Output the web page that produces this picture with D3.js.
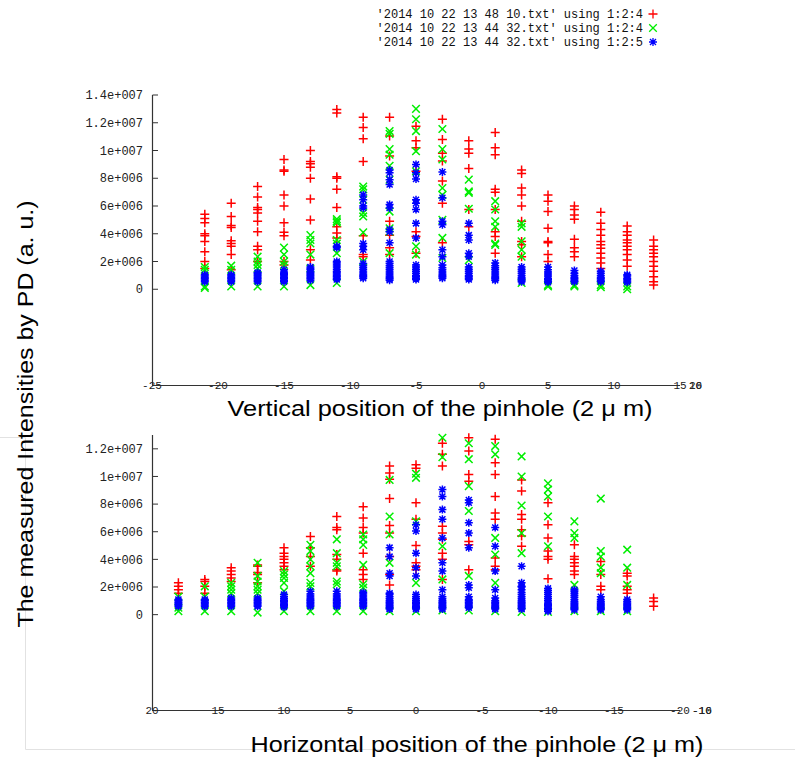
<!DOCTYPE html>
<html>
<head>
<meta charset="utf-8">
<script src="https://cdn.jsdelivr.net/npm/d3@7"></script>
<style>
  body { margin: 0; background: #fff; }
  svg { display: block; }
  .tick-y { font-family: "Liberation Mono", monospace; font-size: 12px; fill: #222; }
  .tick-x { font-family: "Liberation Mono", monospace; font-size: 11px; fill: #222; }
  .legend { font-family: "Liberation Mono", monospace; font-size: 12px; fill: #111; }
  .title { font-family: "Liberation Sans", Arial, sans-serif; font-size: 22px; fill: #000; }
</style>
</head>
<body>
<svg id="canvas" width="795" height="764"></svg>
<script>
// values in units of 1e6 (a. u.)
var legendLabels = [
  "'2014 10 22 13 48 10.txt' using 1:2:4",
  "'2014 10 22 13 44 32.txt' using 1:2:4",
  "'2014 10 22 13 44 32.txt' using 1:2:5"
];

var yTicksTop = [0, 2, 4, 6, 8, 10, 12, 14];
var yTickLabelsTop = ["0", "2e+006", "4e+006", "6e+006", "8e+006", "1e+007", "1.2e+007", "1.4e+007"];
var yTicksBot = [0, 2, 4, 6, 8, 10, 12];
var yTickLabelsBot = ["0", "2e+006", "4e+006", "6e+006", "8e+006", "1e+007", "1.2e+007"];

var xTicksTop = [-25, -20, -15, -10, -5, 0, 5, 10, 15];
var xTicksBot = [20, 15, 10, 5, 0, -5, -10, -15, -20];

// vertical scan (top panel)
var topX = [-21, -19, -17, -15, -13, -11, -9, -7, -5, -3, -1, 1, 3, 5, 7, 9, 11, 13];

var topRed = [
  [5.4, 5.1, 4.8, 4.0, 3.85, 3.45, 2.7, 2.0, 1.5],
  [6.2, 5.25, 4.6, 4.45, 3.5, 3.3, 3.1, 2.5, 1.4],
  [7.4, 6.65, 5.9, 5.75, 5.5, 4.9, 4.15, 3.1, 2.85, 2.0],
  [9.35, 8.6, 8.5, 6.8, 6.0, 4.8, 4.1, 3.85, 2.0, 1.75],
  [10.0, 9.2, 9.05, 8.8, 8.0, 6.5, 5.0, 2.85, 2.1],
  [12.95, 12.7, 8.1, 8.0, 7.2, 5.9, 4.5, 4.05, 3.7],
  [12.4, 11.65, 10.85, 9.2, 3.85, 2.5, 2.35],
  [12.4, 11.05, 9.6, 4.9, 3.9, 3.0, 2.5],
  [11.75, 10.7, 10.2, 8.5, 4.15, 3.8, 2.6],
  [12.25, 10.8, 9.8, 9.25, 7.8, 6.2, 3.35],
  [10.7, 10.1, 9.8, 8.7, 5.75, 4.5],
  [11.3, 10.2, 9.7, 7.2, 7.0, 5.75, 4.15, 3.8, 2.6],
  [8.6, 8.35, 7.3, 6.8, 6.0, 4.9, 3.45, 3.2, 2.35],
  [6.8, 6.35, 5.6, 4.4, 3.45, 3.35, 2.5, 2.0],
  [6.0, 5.75, 5.35, 5.05, 3.6, 3.0, 2.7, 2.35],
  [5.55, 4.75, 4.3, 3.9, 3.45, 3.2, 2.95, 2.6, 2.25, 1.9, 1.5],
  [4.55, 4.15, 3.9, 3.55, 3.35, 3.1, 2.85, 2.5, 2.1, 1.65],
  [3.55, 3.1, 2.85, 2.6, 2.35, 2.0, 1.65, 1.3, 0.9, 0.55, 0.3]
];

var topGreen = [
  [1.6, 1.4, 0.2, 0.1],
  [1.7, 1.4, 0.2],
  [2.35, 2.0, 1.75, 1.5, 0.2],
  [3.0, 2.5, 2.0, 1.75, 0.2],
  [3.9, 3.55, 3.3, 2.5, 1.5, 0.3],
  [5.05, 4.9, 4.8, 3.55, 3.3, 2.6, 0.45],
  [7.4, 7.2, 6.45, 5.5, 5.25, 4.1, 2.0],
  [11.4, 11.2, 10.1, 9.7, 8.9, 7.9, 5.6, 4.4, 4.15, 2.6],
  [13.0, 12.25, 11.4, 9.95, 8.5, 3.1, 2.5],
  [11.55, 10.1, 9.35, 7.3, 6.8, 5.0, 3.7, 2.25],
  [7.9, 7.05, 6.95, 5.8, 2.1],
  [6.35, 5.75, 4.9, 4.5, 3.3, 3.2],
  [4.75, 4.5, 3.45, 2.85, 2.35, 0.45],
  [0.3, 0.2],
  [0.3, 0.2],
  [0.3, 0.15],
  [0.2, 0.0],
  []
];

var topBlue = [
  [0.55, 0.65, 0.75, 0.85, 0.95, 1.05],
  [0.55, 0.65, 0.75, 0.85, 0.95, 1.05],
  [0.55, 0.65, 0.75, 0.85, 0.95, 1.05, 1.15, 1.2],
  [0.55, 0.65, 0.75, 0.85, 0.95, 1.05, 1.15, 1.25, 1.4],
  [0.65, 0.75, 0.85, 0.95, 1.05, 1.15, 1.25, 1.4, 1.5, 1.6],
  [3.1, 3.0, 0.7, 0.8, 0.9, 1.0, 1.1, 1.2, 1.3, 1.45, 1.6, 1.75, 1.9, 2.0],
  [6.8, 6.45, 6.0, 5.85, 3.3, 3.1, 2.85, 0.8, 0.9, 1.0, 1.1, 1.25, 1.4, 1.55, 1.7, 1.85],
  [8.6, 8.4, 7.9, 7.55, 6.1, 5.85, 4.3, 4.15, 3.35, 0.65, 0.75, 0.85, 0.95, 1.1, 1.25, 1.4, 1.55, 1.7, 1.85, 2.0],
  [9.0, 8.4, 7.95, 6.45, 6.2, 5.75, 4.75, 3.7, 0.7, 0.8, 0.9, 1.0, 1.15, 1.3, 1.45, 1.6, 1.75],
  [8.45, 6.6, 4.9, 4.65, 2.85, 2.35, 0.8, 0.9, 1.0, 1.1, 1.25, 1.4, 1.55, 1.75],
  [4.75, 3.9, 3.55, 2.6, 2.35, 0.7, 0.8, 0.9, 1.0, 1.15, 1.3, 1.45, 1.6],
  [0.65, 0.75, 0.85, 0.95, 1.1, 1.25, 1.4, 1.55, 1.7, 1.9],
  [0.55, 0.65, 0.75, 0.85, 1.0, 1.15, 1.3, 1.45, 1.6],
  [0.5, 0.6, 0.7, 0.8, 0.95, 1.1, 1.25, 1.4, 1.6],
  [0.55, 0.65, 0.75, 0.85, 1.0, 1.15, 1.35],
  [0.55, 0.65, 0.75, 0.85, 1.0, 1.15, 1.3],
  [0.5, 0.6, 0.7, 0.8, 0.95, 1.05],
  []
];

// horizontal scan (bottom panel)
var botX = [18, 16, 14, 12, 10, 8, 6, 4, 2, 0, -2, -4, -6, -8, -10, -12, -14, -16, -18];

var botRed = [
  [2.3, 2.05, 1.8, 1.55],
  [2.55, 2.4, 2.05, 1.55],
  [3.4, 3.15, 2.9, 2.65, 2.4],
  [3.6, 3.5, 3.05, 2.9, 2.3],
  [4.85, 4.45, 4.2, 4.0, 3.75, 3.5, 3.25],
  [5.65, 4.85, 4.2, 3.5],
  [7.1, 6.3, 6.15, 4.35, 4.0, 3.25, 3.15],
  [7.8, 7.0, 6.3, 5.9, 4.45, 3.25, 2.9, 2.55],
  [10.75, 10.25, 9.8, 8.4, 6.45, 5.9, 4.2, 2.9, 2.15],
  [10.85, 10.6, 8.1, 6.9, 5.0, 3.75, 3.5, 3.25],
  [12.4, 11.6, 10.75, 6.4, 5.9, 5.45, 4.45, 4.0, 2.55],
  [12.8, 11.85, 10.15, 9.65, 5.3, 5.05, 3.25],
  [12.7, 11.0, 10.15, 8.55, 7.35, 6.9, 4.1, 3.5, 3.25],
  [9.75, 8.95, 7.25, 6.9, 6.15, 5.7, 4.95],
  [8.1, 6.5, 5.55, 4.6, 4.2, 4.0, 2.6],
  [5.05, 4.2, 4.0, 3.75, 3.5, 3.15, 2.9],
  [3.85, 2.9, 2.05, 1.8],
  [3.0, 2.8, 2.05, 1.8, 1.55],
  [1.2, 0.95, 0.6]
];

var botGreen = [
  [1.3, 0.5, 0.25],
  [2.05, 1.3, 0.25],
  [2.3, 2.05, 1.8, 1.55, 0.25],
  [3.75, 2.8, 2.4, 2.05, 1.8, 1.55, 0.15],
  [3.15, 2.9, 2.65, 2.3, 1.7, 0.25],
  [5.05, 4.6, 4.0, 3.5, 3.0, 2.3, 2.05, 0.25],
  [5.45, 4.45, 3.75, 3.5, 2.4, 2.2, 0.25],
  [5.8, 5.45, 5.05, 3.6, 2.2, 1.95, 0.25],
  [9.75, 7.1, 5.8, 3.75, 0.25],
  [10.2, 9.9, 6.75, 2.3, 0.25],
  [12.8, 11.4, 4.95, 2.55, 0.3],
  [12.4, 11.25, 9.3, 7.5, 2.8, 0.3],
  [12.2, 11.6, 5.55, 4.35, 2.3, 0.25],
  [11.45, 10.0, 7.9, 5.9, 4.45, 0.2],
  [9.5, 9.05, 8.55, 7.1, 4.95, 0.2],
  [6.75, 5.9, 5.55, 2.15, 0.25],
  [8.4, 4.6, 4.2, 3.4, 3.0, 0.25],
  [4.7, 3.4, 2.15, 0.25],
  []
];

var botBlue = [
  [0.6, 0.7, 0.8, 0.9, 1.0, 1.1],
  [0.6, 0.7, 0.8, 0.9, 1.0, 1.1],
  [0.6, 0.7, 0.8, 0.9, 1.0, 1.1, 1.2],
  [0.6, 0.7, 0.8, 0.9, 1.0, 1.1, 1.2],
  [0.55, 0.65, 0.75, 0.85, 0.95, 1.05, 1.15, 1.3, 1.45],
  [0.6, 0.7, 0.8, 0.9, 1.0, 1.1, 1.2, 1.35, 1.5, 1.7],
  [0.6, 0.7, 0.8, 0.9, 1.0, 1.1, 1.2, 1.35, 1.5, 1.7],
  [0.6, 0.7, 0.8, 0.9, 1.0, 1.1, 1.2, 1.35, 1.5, 1.6],
  [4.85, 4.2, 3.0, 2.8, 0.4, 0.5, 0.6, 0.7, 0.8, 0.9, 1.0, 1.15, 1.3, 1.45, 1.55],
  [6.5, 6.05, 4.45, 3.4, 2.8, 0.4, 0.5, 0.6, 0.7, 0.8, 0.9, 1.0, 1.15, 1.3, 1.45],
  [9.05, 8.55, 7.6, 6.9, 5.55, 3.75, 3.15, 1.8, 0.4, 0.5, 0.6, 0.7, 0.8, 0.9, 1.0, 1.15, 1.3],
  [8.3, 8.1, 6.65, 5.9, 4.85, 2.15, 1.95, 0.5, 0.6, 0.7, 0.8, 0.9, 1.0, 1.1, 1.3],
  [6.3, 4.95, 3.15, 1.8, 0.4, 0.5, 0.6, 0.7, 0.8, 0.9, 1.0, 1.2],
  [3.5, 2.3, 2.05, 0.4, 0.5, 0.6, 0.7, 0.8, 0.9, 1.0, 1.15, 1.3, 1.45, 1.6, 1.8, 2.0],
  [0.25, 0.35, 0.45, 0.55, 0.65, 0.75, 0.85, 1.0, 1.15, 1.3, 1.45, 1.6, 1.75, 1.9],
  [0.35, 0.45, 0.55, 0.65, 0.75, 0.85, 0.95, 1.1, 1.25, 1.4, 1.55, 1.7, 1.8],
  [0.35, 0.45, 0.55, 0.65, 0.75, 0.85, 0.95, 1.1, 1.3],
  [0.35, 0.45, 0.55, 0.65, 0.75, 0.85, 0.95, 1.1],
  []
];

var colors = ["#ff0000", "#00ee00", "#0000ff"];
var markers = [
  "M-4.5,0H4.5M0,-4.5V4.5",
  "M-3.8,-3.8L3.8,3.8M-3.8,3.8L3.8,-3.8",
  "M-4,0H4M0,-4V4M-3,-3L3,3M-3,3L3,-3"
];

var svg = d3.select('svg#canvas');

// faint border left over from the pasted figure
svg.append('path')
  .attr('d', 'M0,437.5H25.5V749.5H795')
  .attr('fill', 'none')
  .attr('stroke', '#e2e2e2')
  .attr('stroke-width', 1);

function flatten(xs, cols) {
  var pts = [];
  cols.forEach(function(col, i) {
    col.forEach(function(v) { pts.push({x: xs[i], y: v}); });
  });
  return pts;
}

function drawPanel(opt) {
  var x = d3.scaleLinear().domain(opt.xDomain).range([152, 680]);
  var y = d3.scaleLinear().domain(opt.yDomain).range(opt.yRange);
  var g = svg.append('g');

  // y axis line + inward ticks
  g.append('line')
    .attr('x1', 152.5).attr('x2', 152.5)
    .attr('y1', opt.yRange[1]).attr('y2', opt.yRange[0])
    .attr('stroke', '#333').attr('stroke-width', 1.2);
  g.selectAll('.yt').data(opt.yTicks).enter().append('line')
    .attr('x1', 152.5).attr('x2', 158)
    .attr('y1', function(d) { return y(d); }).attr('y2', function(d) { return y(d); })
    .attr('stroke', '#333');
  g.selectAll('.yl').data(opt.yTicks).enter().append('text')
    .attr('class', 'tick-y')
    .attr('x', 143)
    .attr('y', function(d) { return y(d); })
    .attr('dy', '0.35em')
    .attr('text-anchor', 'end')
    .text(function(d, i) { return opt.yLabels[i]; });

  // x axis line, labels sit on top of it
  var y0 = opt.yRange[0];
  g.append('line')
    .attr('x1', 152).attr('x2', 680)
    .attr('y1', y0 + 0.5).attr('y2', y0 + 0.5)
    .attr('stroke', '#333').attr('stroke-width', 1.2);
  g.selectAll('.xl').data(opt.xTicks).enter().append('text')
    .attr('class', 'tick-x')
    .attr('x', function(d) { return x(d); })
    .attr('y', y0 + 0.5)
    .attr('dy', '0.35em')
    .attr('text-anchor', 'middle')
    .text(function(d) { return d; });
  opt.extraLabels.forEach(function(t) {
    g.append('text').attr('class', 'tick-x')
      .attr('x', 680 + opt.extraShift).attr('y', y0 + 0.5).attr('dy', '0.35em')
      .attr('text-anchor', 'start')
      .text(t);
  });

  // scatter, one layer per series
  opt.series.forEach(function(cols, s) {
    g.append('g').selectAll('path')
      .data(flatten(opt.xs, cols))
      .enter().append('path')
      .attr('d', markers[s])
      .attr('transform', function(d) { return 'translate(' + x(d.x) + ',' + y(d.y) + ')'; })
      .attr('fill', 'none')
      .attr('stroke', colors[s])
      .attr('stroke-width', 1.5);
  });

  g.append('text')
    .attr('class', 'title')
    .attr('x', opt.titleX).attr('y', opt.titleY)
    .attr('text-anchor', 'middle')
    .attr('textLength', opt.titleLen)
    .attr('lengthAdjust', 'spacingAndGlyphs')
    .text(opt.title);
}

drawPanel({
  xDomain: [-25, 15], yDomain: [-6.9, 14], yRange: [385, 95],
  yTicks: yTicksTop, yLabels: yTickLabelsTop, xTicks: xTicksTop,
  extraLabels: ["16", "20"], extraShift: 9,
  xs: topX, series: [topRed, topGreen, topBlue],
  title: "Vertical position of the pinhole (2 \u03bc m)", titleX: 440, titleY: 416, titleLen: 425
});

drawPanel({
  xDomain: [20, -20], yDomain: [-6.9, 13], yRange: [710, 435],
  yTicks: yTicksBot, yLabels: yTickLabelsBot, xTicks: xTicksBot,
  extraLabels: ["-16", "-10"], extraShift: 12,
  xs: botX, series: [botRed, botGreen, botBlue],
  title: "Horizontal position of the pinhole (2 \u03bc m)", titleX: 477, titleY: 752, titleLen: 453
});

// y title shared by both panels
svg.append('text')
  .attr('class', 'title')
  .attr('transform', 'translate(33,414) rotate(-90)')
  .attr('text-anchor', 'middle')
  .attr('textLength', 427)
  .attr('lengthAdjust', 'spacingAndGlyphs')
  .text("The measured Intensities by PD (a. u.)");

// legend
var legend = svg.append('g');
legendLabels.forEach(function(lab, i) {
  var ly = 14 + i * 14;
  legend.append('text').attr('class', 'legend')
    .attr('x', 643).attr('y', ly).attr('dy', '0.35em')
    .attr('text-anchor', 'end')
    .text(lab);
  legend.append('path')
    .attr('d', markers[i])
    .attr('transform', 'translate(653,' + ly + ')')
    .attr('fill', 'none')
    .attr('stroke', colors[i])
    .attr('stroke-width', 1.3);
});
</script>
</body>
</html>
